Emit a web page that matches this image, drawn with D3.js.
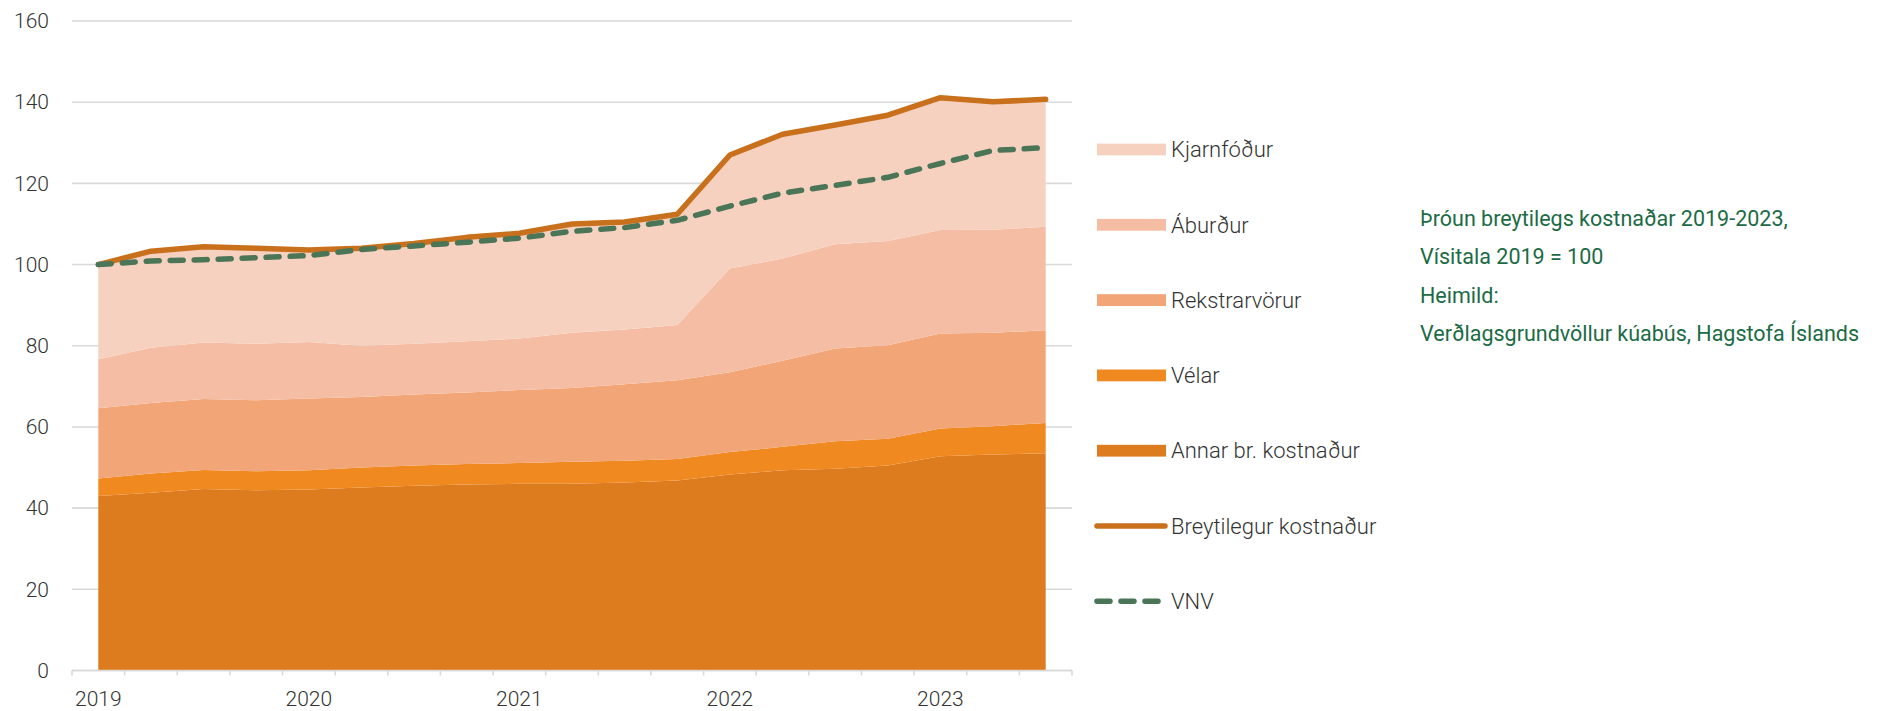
<!DOCTYPE html>
<html>
<head>
<meta charset="utf-8">
<script src="https://cdn.jsdelivr.net/npm/d3@7"></script>
<style>
  html, body { margin: 0; padding: 0; background: #fff; }
  svg { display: block; }
  text { font-family: "Roboto", "Open Sans", sans-serif; }
</style>
</head>
<body>
<svg id="chart" width="1883" height="711"></svg>
<script>
// ---------- data ----------
const quarters = [
  "2019-1","2019-2","2019-3","2019-4",
  "2020-1","2020-2","2020-3","2020-4",
  "2021-1","2021-2","2021-3","2021-4",
  "2022-1","2022-2","2022-3","2022-4",
  "2023-1","2023-2","2023-3"
];
const yearTickLabels = ["2019","2020","2021","2022","2023"];
const yTickValues = [0, 20, 40, 60, 80, 100, 120, 140, 160];

const annarKostnadur = [43.0,43.8,44.7,44.4,44.6,45.1,45.5,45.8,46.0,46.0,46.3,46.8,48.3,49.3,49.7,50.5,52.8,53.2,53.5];
const velar          = [4.3,4.7,4.7,4.7,4.7,4.9,5.0,5.1,5.1,5.4,5.4,5.3,5.5,5.8,6.8,6.6,6.8,7.0,7.5];
const rekstrarvorur  = [17.3,17.4,17.5,17.5,17.7,17.4,17.5,17.6,18.0,18.2,18.8,19.4,19.7,21.2,22.8,23.0,23.4,23.0,22.8];
const aburdur        = [12.1,13.6,13.9,13.9,13.9,12.6,12.5,12.6,12.7,13.6,13.5,13.6,25.5,25.2,25.7,25.7,25.5,25.4,25.5];
const kjarnfodur     = [23.3,23.8,23.6,23.5,22.7,24.0,24.7,25.6,25.9,26.8,26.5,27.3,28.0,30.6,29.4,31.0,32.6,31.5,31.4];
const breytilegurKostnadur = [100,103.3,104.4,104.0,103.6,104.0,105.2,106.7,107.7,110.0,110.5,112.4,127.0,132.1,134.4,136.8,141.1,140.1,140.7];
const vnv = [100,100.9,101.2,101.7,102.2,103.7,104.6,105.5,106.5,108.2,109.1,110.9,114.4,117.6,119.5,121.5,124.9,128.1,128.8];

const areaSeriesNames = ["Annar br. kostnaður","Vélar","Rekstrarvörur","Áburður","Kjarnfóður"];
const areaSeriesValues = [annarKostnadur, velar, rekstrarvorur, aburdur, kjarnfodur];
const areaColors = ["#dd7c1e","#ef8920","#f2a576","#f5bea4","#f7d1c0"];
const lineColor = "#c9701c";
const vnvColor = "#4a7556";

const notes = [
  "Þróun breytilegs kostnaðar 2019-2023,",
  "Vísitala 2019 = 100",
  "Heimild:",
  "Verðlagsgrundvöllur kúabús, Hagstofa Íslands"
];

// ---------- build table ----------
const table = quarters.map((q, i) => {
  const row = { q };
  areaSeriesNames.forEach((n, k) => row[n] = areaSeriesValues[k][i]);
  row.total = breytilegurKostnadur[i];
  row.vnv = vnv[i];
  return row;
});

const svg = d3.select("#chart");

const x = d3.scaleBand().domain(quarters).range([72, 1072]).padding(0);
const xc = q => x(q) + x.bandwidth() / 2;
const y = d3.scaleLinear().domain([0, 160]).range([670.5, 21]);

// gridlines
svg.append("g")
  .selectAll("line")
  .data(yTickValues)
  .join("line")
  .attr("x1", 72).attr("x2", 1072)
  .attr("y1", d => y(d)).attr("y2", d => y(d))
  .attr("stroke", "#d9d9d9")
  .attr("stroke-width", 1.6);

// y axis labels
const yAxis = d3.axisLeft(y).tickValues(yTickValues).tickSize(0).tickPadding(0);
const yg = svg.append("g").attr("transform", "translate(49,0)").call(yAxis);
yg.select(".domain").remove();
yg.selectAll("text")
  .attr("font-size", 21).attr("font-weight", 300)
  .attr("fill", "#333")
  .attr("font-family", "Roboto, 'Open Sans', sans-serif");

// stacked areas
const stack = d3.stack().keys(areaSeriesNames);
const stacked = stack(table);
const area = d3.area()
  .x(d => xc(d.data.q))
  .y0(d => y(d[0]))
  .y1(d => y(d[1]));

svg.append("g")
  .selectAll("path")
  .data(stacked)
  .join("path")
  .attr("d", area)
  .attr("fill", (d, i) => areaColors[i]);

// x axis
const xg = svg.append("g").attr("transform", `translate(0,${y(0)})`);
const edges = quarters.map(q => x(q)).concat([x.range()[1]]);
xg.selectAll("line.tick")
  .data(edges)
  .join("line")
  .attr("class", "tick")
  .attr("x1", d => d).attr("x2", d => d)
  .attr("y1", 0).attr("y2", 5)
  .attr("stroke", "#d9d9d9").attr("stroke-width", 1.6);
xg.append("line")
  .attr("x1", 72).attr("x2", 1072)
  .attr("stroke", "#d9d9d9").attr("stroke-width", 1.6);
const yearQuarters = yearTickLabels.map(yl => yl + "-1");
xg.selectAll("text.year")
  .data(yearQuarters)
  .join("text")
  .attr("class", "year")
  .attr("x", d => xc(d))
  .attr("y", 35)
  .attr("text-anchor", "middle")
  .attr("font-size", 21).attr("font-weight", 300)
  .attr("fill", "#333")
  .text((d, i) => yearTickLabels[i]);

// lines
const line = key => d3.line().x(d => xc(d.q)).y(d => y(d[key]));
svg.append("path")
  .datum(table)
  .attr("d", line("total"))
  .attr("fill", "none")
  .attr("stroke", lineColor)
  .attr("stroke-width", 5.5)
  .attr("stroke-linejoin", "round")
  .attr("stroke-linecap", "round");
svg.append("path")
  .datum(table)
  .attr("d", line("vnv"))
  .attr("fill", "none")
  .attr("stroke", vnvColor)
  .attr("stroke-width", 5.5)
  .attr("stroke-dasharray", "13,11")
  .attr("stroke-linejoin", "round")
  .attr("stroke-linecap", "round");

// legend
const legendItems = [
  { name: "Kjarnfóður", type: "rect", color: areaColors[4] },
  { name: "Áburður", type: "rect", color: areaColors[3] },
  { name: "Rekstrarvörur", type: "rect", color: areaColors[2] },
  { name: "Vélar", type: "rect", color: areaColors[1] },
  { name: "Annar br. kostnaður", type: "rect", color: areaColors[0] },
  { name: "Breytilegur kostnaður", type: "line", color: lineColor },
  { name: "VNV", type: "dash", color: vnvColor }
];
const lg = svg.append("g");
const items = lg.selectAll("g")
  .data(legendItems)
  .join("g")
  .attr("transform", (d, i) => `translate(0,${149.5 + i * 75.3})`);
items.filter(d => d.type === "rect").append("rect")
  .attr("x", 1097).attr("y", -5.9).attr("width", 69).attr("height", 11.8)
  .attr("fill", d => d.color);
items.filter(d => d.type !== "rect").append("line")
  .attr("x1", 1097).attr("x2", 1165).attr("y1", 0).attr("y2", 0)
  .attr("stroke", d => d.color).attr("stroke-width", 5.5)
  .attr("stroke-linecap", "round")
  .attr("stroke-dasharray", d => d.type === "dash" ? "13,11" : null);
items.append("text")
  .attr("x", 1171).attr("y", 0).attr("dy", "0.35em")
  .attr("font-size", 22).attr("font-weight", 300)
  .attr("fill", "#333")
  .text(d => d.name);

// notes
svg.append("g")
  .selectAll("text")
  .data(notes)
  .join("text")
  .attr("x", 1420)
  .attr("y", (d, i) => 218.5 + i * 38.4)
  .attr("dy", "0.35em")
  .attr("font-size", 21.5)
  .attr("fill", "#1b6b45")
  .text(d => d);
</script>
</body>
</html>
